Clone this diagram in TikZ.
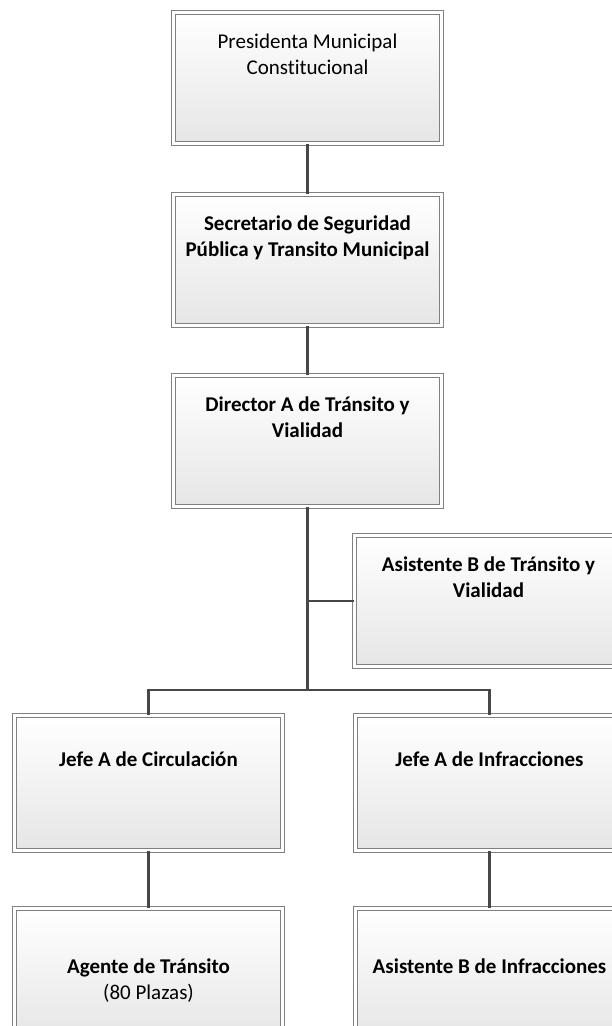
\documentclass[tikz,border=0pt]{standalone}
\usepackage{fontspec}
\setmainfont{Carlito}[Ligatures=NoCommon]
\usepackage{tikz}
\usepackage{xcolor}
\newcommand{\orgtext}[2][18pt]{\parbox[t][131pt][t]{268pt}{\centering\fontsize{21}{26}\selectfont\vspace*{#1}\strut #2}}

\begin{document}
\begin{tikzpicture}[x=1pt,y=-1pt]
	\tikzstyle{orgbox} = [draw=black!50, line width=0.8pt, double=white, double distance=3pt, top color=white, bottom color=black!10, inner sep=0pt, anchor=north, minimum width=268pt, minimum height=131pt]
	\tikzstyle{edge} = [draw=black!72, line width=2.2pt]
	\useasboundingbox (0,0) rectangle (612,1026);
	% boxes
		\node[orgbox] (pres) at (307.5,12.3) {\orgtext{Presidenta Municipal\\Constitucional}};
		\node[orgbox] (secr) at (307.5,194.3) {\orgtext{\textbf{Secretario de Seguridad}\\\textbf{Pública y Transito Municipal}}};
		\node[orgbox] (dir) at (307.5,375.3) {\orgtext{\textbf{Director A de Tránsito y}\\\textbf{Vialidad}}};
		\node[orgbox] (asist) at (488.5,535.3) {\orgtext{\textbf{Asistente B de Tránsito y}\\\textbf{Vialidad}}};
		\node[orgbox, minimum height=135pt] (jefec) at (148.5,715.3) {\orgtext[31pt]{\textbf{Jefe A de Circulación}}};
		\node[orgbox, minimum height=135pt] (jefei) at (489.5,715.3) {\orgtext[31pt]{\textbf{Jefe A de Infracciones}}};
		\node[orgbox] (agente) at (148.5,908.3) {\orgtext[47pt]{\textbf{Agente de Tránsito}\\(80 Plazas)}};
		\node[orgbox] (asinf) at (489.5,908.3) {\orgtext[47pt]{\textbf{Asistente B de Infracciones}}};
	\coordinate (bus) at (307.5,690);
	% connectors
	\path [edge] (pres) -- (secr)
		       (secr) -- (dir)
		       (dir.south) -- (bus)
		       (asist.west) -- (asist.west -| dir.south)
		       (jefec.north) |- (bus) -| (jefei.north)
		       (jefec.south) -- (agente.north)
		       (jefei.south) -- (asinf.north);
\end{tikzpicture}
\end{document}
